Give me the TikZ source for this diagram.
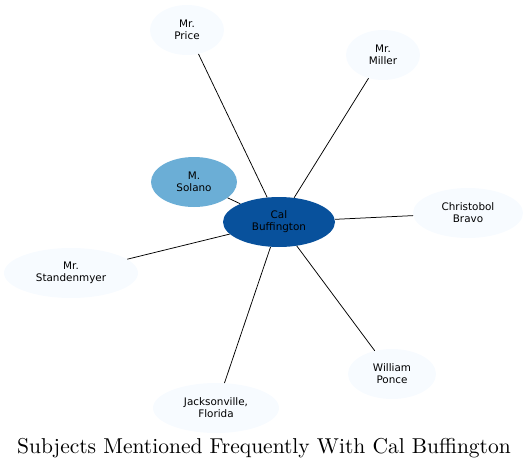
\documentclass[tikz,border=0pt]{standalone}
\usepackage{fontspec}
\newfontfamily\nodefont{DejaVu Sans}
\newfontfamily\titlefont{lmroman10-regular.otf}
\usetikzlibrary{shapes.geometric}
\definecolor{pale}{HTML}{F7FBFF}
\definecolor{mid}{HTML}{6BAED6}
\definecolor{dark}{HTML}{08519C}
\tikzset{
  subj/.style={ellipse, draw=none, fill=pale, inner sep=0pt, align=center,
    font=\nodefont\fontsize{10.4}{12}\selectfont, text=black},
  link/.style={draw=black, line width=0.75pt},
}
\begin{document}
\begin{tikzpicture}[x=1pt,y=-1pt]
\useasboundingbox (0,0) rectangle (528,469);
\node[subj, fill=dark, minimum width=112, minimum height=50] (cal) at (279,222) {Cal\\Buffington};
\node[subj, fill=mid, minimum width=86, minimum height=50] (solano) at (194,182) {M.\\Solano};
\node[subj, minimum width=74, minimum height=50] (price) at (187,30) {Mr.\\Price};
\node[subj, minimum width=74, minimum height=50] (miller) at (383,55) {Mr.\\Miller};
\node[subj, minimum width=110, minimum height=50] (bravo) at (468,213) {Christobol\\Bravo};
\node[subj, minimum width=134, minimum height=50] (stand) at (71,273) {Mr.\\Standenmyer};
\node[subj, minimum width=88, minimum height=50] (ponce) at (392,374) {William\\Ponce};
\node[subj, minimum width=126, minimum height=50] (jack) at (216,408) {Jacksonville,\\Florida};
\foreach \t in {solano,price,miller,bravo,stand,ponce,jack}
  \draw[link] (cal) -- (\t);
\node[font=\titlefont\fontsize{21.5}{26}\selectfont, inner sep=0pt, anchor=base] (title) at (264,453) {Subjects Mentioned Frequently With Cal Buffington};
\end{tikzpicture}
\end{document}
